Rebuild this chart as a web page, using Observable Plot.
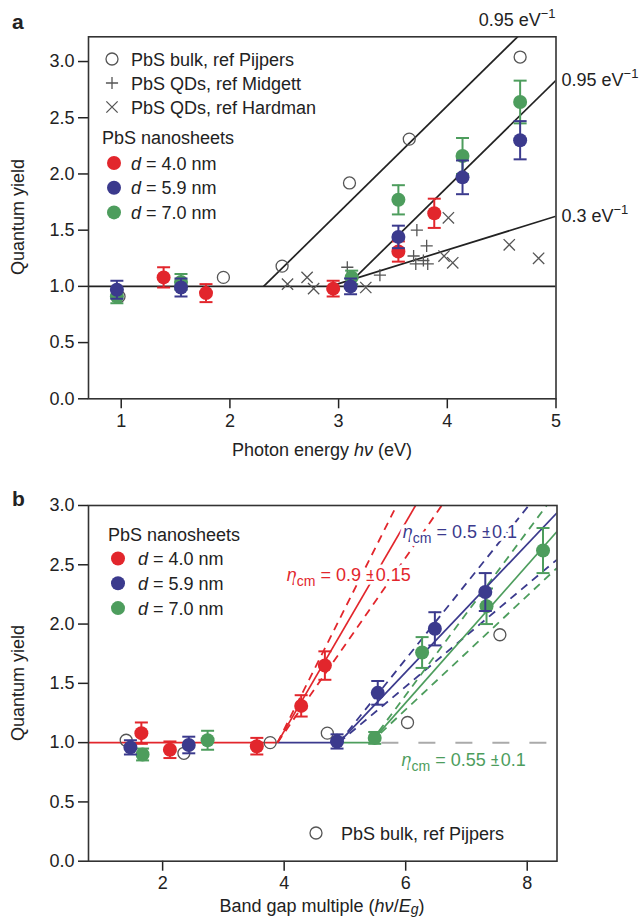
<!DOCTYPE html>
<html><head><meta charset="utf-8">
<script src="https://cdn.jsdelivr.net/npm/d3@7"></script>
<script src="https://cdn.jsdelivr.net/npm/@observablehq/plot@0.6"></script>
<style>
body{margin:0;background:#fff;}
#wrap{position:relative;width:642px;height:919px;}
#wrap svg{position:absolute;left:0;overflow:visible;}
</style></head><body><div id="wrap"></div>
<script>
const FONT = '"Liberation Sans", Arial, Helvetica, sans-serif';
const RED = "#e2262c", BLUE = "#3b3a8d", GREEN = "#4d9d5d", GREY = "#555", BLACK = "#222";

// ---------- Panel a data (x = photon energy, eV) ----------
const aBulkX = [0.98, 1.94, 2.48, 3.10, 3.65, 4.67];
const aBulkY = [0.91, 1.08, 1.18, 1.92, 2.31, 3.04];
const aMidgettX = [3.08, 3.38, 3.69, 3.71, 3.72, 3.78, 3.81, 3.82];
const aMidgettY = [1.17, 1.10, 1.27, 1.20, 1.50, 1.23, 1.36, 1.20];
const aHardmanX = [2.53, 2.71, 2.77, 3.25, 3.97, 4.01, 4.05, 4.57, 4.84];
const aHardmanY = [1.02, 1.08, 0.98, 0.99, 1.27, 1.61, 1.21, 1.37, 1.25];
const aRedX = [1.39, 1.78, 2.95, 3.55, 3.88];
const aRedY = [1.08, 0.94, 0.98, 1.31, 1.65];
const aRedErr = [0.09, 0.08, 0.07, 0.09, 0.13];
const aBlueX = [0.96, 1.55, 3.11, 3.55, 4.14, 4.67];
const aBlueY = [0.97, 0.99, 1.00, 1.44, 1.97, 2.30];
const aBlueErr = [0.08, 0.08, 0.07, 0.10, 0.15, 0.17];
const aGreenX = [0.96, 1.55, 3.12, 3.55, 4.14, 4.67];
const aGreenY = [0.91, 1.04, 1.08, 1.77, 2.16, 2.64];
const aGreenErr = [0.06, 0.07, 0.06, 0.13, 0.16, 0.19];
const aFitX0 = [2.31, 3.07, 2.92];
const aFitSlope = [0.95, 0.95, 0.30];
const aFitLabel = ["0.95", "0.95", "0.3"];
const aXTicks = [1, 2, 3, 4, 5];
const yTicks = [0, 0.5, 1, 1.5, 2, 2.5, 3];

// ---------- Panel b data (x = band gap multiple) ----------
const bBulkX = [1.40, 2.35, 3.77, 4.71, 6.03, 7.55];
const bBulkY = [1.02, 0.91, 1.00, 1.08, 1.17, 1.91];
const bRedX = [1.65, 2.12, 3.55, 4.28, 4.67];
const bRedY = [1.08, 0.94, 0.97, 1.31, 1.65];
const bRedErr = [0.09, 0.07, 0.07, 0.09, 0.12];
const bBlueX = [1.47, 2.43, 4.87, 5.54, 6.48, 7.31];
const bBlueY = [0.96, 0.98, 1.01, 1.42, 1.96, 2.27];
const bBlueErr = [0.06, 0.07, 0.06, 0.10, 0.14, 0.16];
const bGreenX = [1.67, 2.74, 5.49, 6.27, 7.33, 8.26];
const bGreenY = [0.90, 1.02, 1.04, 1.76, 2.15, 2.62];
const bGreenErr = [0.05, 0.08, 0.05, 0.13, 0.15, 0.19];
const bFitX0 = [3.89, 4.90, 5.42];
const bFitSlope = [0.88, 0.54, 0.58];
const bFitLo = [0.74, 0.43, 0.48];
const bFitHi = [1.02, 0.64, 0.69];
const bEta = ["0.9", "0.5", "0.55"];
const bEtaErr = ["0.15", "0.1", "0.1"];
const bXTicks = [2, 4, 6, 8];

const sheetNames = ["4.0", "5.9", "7.0"];
const sheetColors = [RED, BLUE, GREEN];

// ---------- helpers ----------
const FS = 18;
const pts = (xs, ys, es) => xs.map((x, i) => ({x, y: ys[i], e: es ? es[i] : 0}));
const cap = {draw(ctx) { ctx.moveTo(-6.5, 0); ctx.lineTo(6.5, 0); }};
function errMarks(data, color) {
  return [
    Plot.ruleX(data, {x: "x", y1: d => d.y - d.e, y2: d => d.y + d.e, stroke: color, strokeWidth: 2}),
    Plot.dot(data, {x: "x", y: d => d.y - d.e, symbol: cap, r: 5, stroke: color, fill: "none", strokeWidth: 2}),
    Plot.dot(data, {x: "x", y: d => d.y + d.e, symbol: cap, r: 5, stroke: color, fill: "none", strokeWidth: 2}),
    Plot.dot(data, {x: "x", y: "y", r: 7, fill: color, stroke: "none"})
  ];
}
function rich(svg, x, y, parts, o = {}) {
  const size = o.size || FS;
  const t = d3.select(svg).append("text")
    .attr("x", x).attr("y", y).attr("fill", o.fill || BLACK)
    .attr("text-anchor", o.anchor || "start")
    .style("font-family", FONT).style("font-size", size + "px");
  if (o.rotate) t.attr("transform", `rotate(${o.rotate},${x},${y})`);
  if (o.halo) t.attr("stroke", "white").attr("stroke-width", 7).attr("stroke-linejoin", "round").attr("paint-order", "stroke");
  let shift = 0;
  for (const p of parts) {
    const s = t.append("tspan").text(p.t);
    let target = 0, fs = size;
    if (p.sub) { target = size * (o.subShift ?? 0.28); fs = size * 0.78; }
    if (p.sup) { target = -size * 0.42; fs = size * 0.72; }
    if (target !== shift) { s.attr("dy", target - shift); shift = target; }
    s.style("font-size", fs + "px");
    if (p.i) s.style("font-style", "italic");
    if (p.b) s.style("font-weight", "bold");
  }
  return t;
}
function sym(svg, type, x, y, o) {
  const g = d3.select(svg);
  if (type === "circle") g.append("circle").attr("cx", x).attr("cy", y).attr("r", 6).attr("fill", "none").attr("stroke", GREY).attr("stroke-width", 1.3);
  else if (type === "dot") g.append("circle").attr("cx", x).attr("cy", y).attr("r", 7).attr("fill", o);
  else g.append("path").attr("transform", `translate(${x},${y})`)
    .attr("d", d3.symbol(type === "plus" ? d3.symbolPlus : d3.symbolTimes, type === "plus" ? 50 : 85)())
    .attr("fill", "none").attr("stroke", GREY).attr("stroke-width", 1.3);
}
const axisStyle = {fontFamily: FONT, fontSize: FS + "px", color: BLACK, background: "white", overflow: "visible"};
const wrap = document.getElementById("wrap");

// ---------- Panel a ----------
const aXmin = 0.699, aXmax = 5.0, aYmax = 3.22;
const aSheets = [pts(aGreenX, aGreenY, aGreenErr), pts(aRedX, aRedY, aRedErr), pts(aBlueX, aBlueY, aBlueErr)];
const aFits = aFitX0.map((x0, i) => ({x0, slope: aFitSlope[i], label: aFitLabel[i]}));
const plotA = Plot.plot({
  width: 642, height: 465,
  marginLeft: 88, marginRight: 86.5, marginTop: 36.3, marginBottom: 66.7,
  x: {domain: [aXmin, aXmax]},
  y: {domain: [0, aYmax]},
  style: axisStyle,
  marks: [
    Plot.axisX({ticks: aXTicks, tickSize: 10, tickPadding: 5, tickFormat: d3.format("d"), label: null, strokeWidth: 1.5}),
    Plot.axisY({ticks: yTicks, tickSize: 10, tickPadding: 4, tickFormat: d3.format(".1f"), label: null, strokeWidth: 1.5}),
    Plot.ruleY([1], {stroke: BLACK, strokeWidth: 1.7}),
    Plot.link(aFits, {x1: "x0", y1: () => 1, x2: () => aXmax, y2: d => 1 + d.slope * (aXmax - d.x0), stroke: BLACK, strokeWidth: 1.7, clip: true}),
    Plot.dot(pts(aBulkX, aBulkY), {x: "x", y: "y", r: 6, stroke: GREY, strokeWidth: 1.3, fill: "none"}),
    Plot.dot(pts(aMidgettX, aMidgettY), {x: "x", y: "y", symbol: "plus", r: 4, stroke: GREY, strokeWidth: 1.3}),
    Plot.dot(pts(aHardmanX, aHardmanY), {x: "x", y: "y", symbol: "times", r: 5.2, stroke: GREY, strokeWidth: 1.3}),
    ...errMarks(aSheets[0], GREEN),
    ...errMarks(aSheets[1], RED),
    ...errMarks(aSheets[2], BLUE),
    Plot.frame({stroke: "#333", strokeWidth: 1.6})
  ]
});
plotA.style.top = "0px";
wrap.appendChild(plotA);
{
  const sx = plotA.scale("x"), sy = plotA.scale("y");
  for (const f of aFits) {
    const yEnd = 1 + f.slope * (aXmax - f.x0);
    const parts = [{t: f.label + " eV"}, {t: "\u22121", sup: true}];
    if (yEnd > aYmax) rich(plotA, sx.apply(f.x0 + (aYmax - 1) / f.slope), 26, parts, {anchor: "middle"});
    else rich(plotA, sx.apply(aXmax) + 6, sy.apply(yEnd) + 6, parts);
  }
  rich(plotA, 12, 29, [{t: "a", b: true}], {size: 21});
  rich(plotA, 24, 217, [{t: "Quantum yield"}], {anchor: "middle", rotate: -90});
  rich(plotA, 322, 456, [{t: "Photon energy "}, {t: "h\u03bd", i: true}, {t: " (eV)"}], {anchor: "middle"});
  // legend
  sym(plotA, "circle", 112, 59); rich(plotA, 131, 65.5, [{t: "PbS bulk, ref Pijpers"}]);
  sym(plotA, "plus", 112, 83); rich(plotA, 131, 89.5, [{t: "PbS QDs, ref Midgett"}]);
  sym(plotA, "times", 112, 107); rich(plotA, 131, 113.5, [{t: "PbS QDs, ref Hardman"}]);
  rich(plotA, 102, 143.5, [{t: "PbS nanosheets"}]);
  sheetNames.forEach((n, i) => {
    sym(plotA, "dot", 114, 163 + i * 24.7, sheetColors[i]);
    rich(plotA, 131, 169.5 + i * 24.7, [{t: "d", i: true}, {t: " = " + n + " nm"}]);
  });
}

// ---------- Panel b ----------
const bXmin = 0.78, bXmax = 8.49, bTop = 470;
const bSheets = [pts(bRedX, bRedY, bRedErr), pts(bBlueX, bBlueY, bBlueErr), pts(bGreenX, bGreenY, bGreenErr)];
const bFits = bFitX0.map((x0, i) => ({x0, slope: bFitSlope[i], lo: bFitLo[i], hi: bFitHi[i], color: sheetColors[i], xPrev: i === 0 ? bXmin : bFitX0[i - 1]}));
const bDash = bFits.flatMap(f => [{x0: f.x0, slope: f.lo, color: f.color}, {x0: f.x0, slope: f.hi, color: f.color}]);
const lineEnd = d => 1 + d.slope * (bXmax - d.x0);
const plotB = Plot.plot({
  width: 642, height: 449,
  marginLeft: 88, marginRight: 85.5, marginTop: 35, marginBottom: 58.3,
  x: {domain: [bXmin, bXmax]},
  y: {domain: [0, 3]},
  style: axisStyle,
  marks: [
    Plot.axisX({ticks: bXTicks, tickSize: 10, tickPadding: 5, tickFormat: d3.format("d"), label: null, strokeWidth: 1.5}),
    Plot.axisY({ticks: yTicks, tickSize: 10, tickPadding: 4, tickFormat: d3.format(".1f"), label: null, strokeWidth: 1.5}),
    Plot.link(bFits, {x1: "xPrev", x2: "x0", y1: () => 1, y2: () => 1, stroke: "color", strokeWidth: 1.7}),
    Plot.link([bFitX0[2] + 0.18], {x1: d => d, x2: () => bXmax, y1: () => 1, y2: () => 1, stroke: "#aaa", strokeWidth: 2, strokeDasharray: "17,20"}),
    Plot.link(bDash, {x1: "x0", y1: () => 1, x2: () => bXmax, y2: lineEnd, stroke: "color", strokeWidth: 1.8, strokeDasharray: "8,6", clip: true}),
    Plot.link(bFits, {x1: "x0", y1: () => 1, x2: () => bXmax, y2: lineEnd, stroke: "color", strokeWidth: 1.7, clip: true}),
    Plot.dot(pts(bBulkX, bBulkY), {x: "x", y: "y", r: 6, stroke: GREY, strokeWidth: 1.3, fill: "none"}),
    ...errMarks(bSheets[0], RED),
    ...errMarks(bSheets[2], GREEN),
    ...errMarks(bSheets[1], BLUE),
    Plot.frame({stroke: "#333", strokeWidth: 1.6})
  ]
});
plotB.style.top = bTop + "px";
wrap.appendChild(plotB);
{
  const sx = plotB.scale("x"), sy = plotB.scale("y");
  const etaPos = [[4.05, 2.41], [5.96, 2.77], [5.94, 0.85]];
  bEta.forEach((v, i) => {
    rich(plotB, sx.apply(etaPos[i][0]), sy.apply(etaPos[i][1]) + 6,
      [{t: "\u03b7", i: true}, {t: "cm", sub: true}, {t: " = " + v + " "}, {t: "\u00b1"}, {t: bEtaErr[i]}],
      {fill: sheetColors[i], halo: true});
  });
  rich(plotB, 12, 506 - bTop, [{t: "b", b: true}], {size: 21});
  rich(plotB, 24, 683 - bTop, [{t: "Quantum yield"}], {anchor: "middle", rotate: -90});
  rich(plotB, 322, 912 - bTop, [{t: "Band gap multiple ("}, {t: "h\u03bd", i: true}, {t: "/"}, {t: "E", i: true}, {t: "g", i: true, sub: true}, {t: ")"}], {anchor: "middle", subShift: 0.12});
  rich(plotB, 108, 540.5 - bTop, [{t: "PbS nanosheets"}]);
  sheetNames.forEach((n, i) => {
    sym(plotB, "dot", 118, 558.5 - bTop + i * 24.8, sheetColors[i]);
    rich(plotB, 138, 565 - bTop + i * 24.8, [{t: "d", i: true}, {t: " = " + n + " nm"}]);
  });
  sym(plotB, "circle", 316, 833 - bTop);
  rich(plotB, 341, 839.5 - bTop, [{t: "PbS bulk, ref Pijpers"}]);
}
</script></body></html>
